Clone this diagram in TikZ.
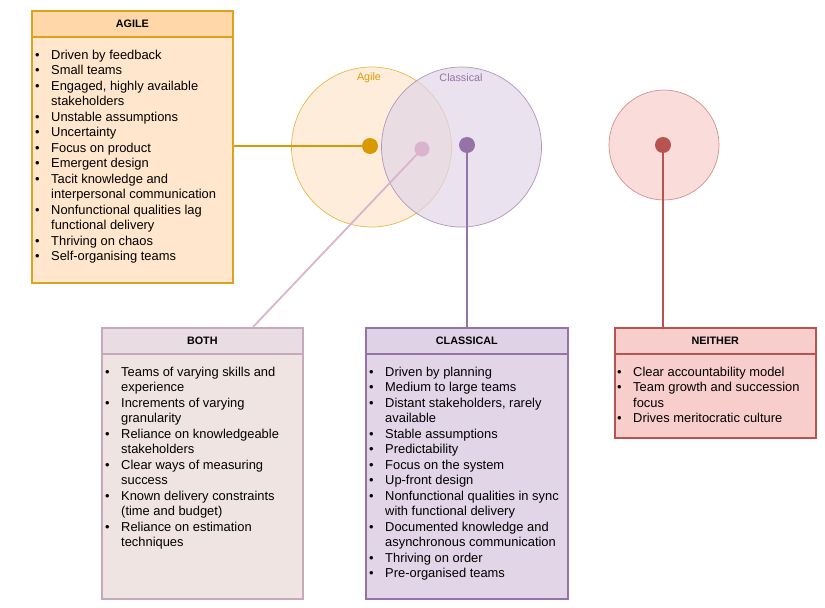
\documentclass[tikz,border=0pt]{standalone}
\usepackage{fontspec}
\setmainfont{Liberation Sans}
\definecolor{agFill}{HTML}{FFE6CC}
\definecolor{agHead}{HTML}{FFD7A8}
\definecolor{agLine}{HTML}{D79B00}
\definecolor{agBorder}{HTML}{DCA31E}
\definecolor{clFill}{HTML}{E1D5E7}
\definecolor{clHead}{HTML}{DFD2E6}
\definecolor{clLine}{HTML}{9673A6}
\definecolor{boFill}{HTML}{F0E4E2}
\definecolor{boHead}{HTML}{E9DCE3}
\definecolor{boBorder}{HTML}{C6AABB}
\definecolor{boLine}{HTML}{DAB3CE}
\definecolor{neFill}{HTML}{F8CECC}
\definecolor{neLine}{HTML}{B85450}
\newcommand\bl{\textbullet}
\tikzset{
  bodybox/.style={rectangle, draw, line width=1.6pt, anchor=north west, inner sep=0pt},
  headbox/.style={rectangle, draw, line width=1.6pt, anchor=north west, inner sep=0pt,
    minimum height=26pt, font=\fontsize{10.8}{13}\selectfont\bfseries},
  listtext/.style={anchor=base west, inner sep=0pt, align=left,
    font=\fontsize{12.9}{15.5}\selectfont},
  venn/.style={circle, draw, line width=0.7pt, fill opacity=0.7, inner sep=0pt},
  dot/.style={circle, inner sep=0pt, minimum size=16pt},
  link/.style={line width=1.8pt},
  clabel/.style={font=\fontsize{10.75}{12}\selectfont, inner sep=0pt}
}
\begin{document}
\begin{tikzpicture}[x=1pt,y=-1pt]
\useasboundingbox (0,0) rectangle (825,608);

% Venn circles
\node[venn, fill=agFill, draw=agLine!70, minimum size=160pt] (agc) at (371.5,147) {};
\node[venn, fill=clFill, draw=clLine!75, minimum size=160pt] (clc) at (461.5,147) {};
\node[venn, fill=neFill, draw=neLine!65, minimum size=110pt] (nec) at (664,145) {};
\node[clabel, text=agLine] (aglab) at (369,78) {Agile};
\node[clabel, text=clLine] (cllab) at (461,78) {Classical};

% Boxes
\node[bodybox, fill=agFill, draw=agBorder, minimum width=201pt, minimum height=272pt] (agile) at (31,10) {};
\node[headbox, fill=agHead, draw=agBorder, minimum width=201pt] (agileh) at (31,10) {AGILE};
\node[listtext] (agilet) at (35,59.2) {\begin{tabular}[t]{@{}l@{\hspace{11.5pt}}l@{}}
\bl & Driven by feedback\\
\bl & Small teams\\
\bl & Engaged, highly available\\
    & stakeholders\\
\bl & Unstable assumptions\\
\bl & Uncertainty\\
\bl & Focus on product\\
\bl & Emergent design\\
\bl & Tacit knowledge and\\
    & interpersonal communication\\
\bl & Nonfunctional qualities lag\\
    & functional delivery\\
\bl & Thriving on chaos\\
\bl & Self-organising teams
\end{tabular}};

\node[bodybox, fill=boFill, draw=boBorder, minimum width=201pt, minimum height=271pt] (both) at (101,327) {};
\node[headbox, fill=boHead, draw=boBorder, minimum width=201pt] (bothh) at (101,327) {BOTH};
\node[listtext] (botht) at (105,376.2) {\begin{tabular}[t]{@{}l@{\hspace{11.5pt}}l@{}}
\bl & Teams of varying skills and\\
    & experience\\
\bl & Increments of varying\\
    & granularity\\
\bl & Reliance on knowledgeable\\
    & stakeholders\\
\bl & Clear ways of measuring\\
    & success\\
\bl & Known delivery constraints\\
    & (time and budget)\\
\bl & Reliance on estimation\\
    & techniques
\end{tabular}};

\node[bodybox, fill=clFill, draw=clLine, minimum width=202pt, minimum height=271pt] (classical) at (365,327) {};
\node[headbox, fill=clHead, draw=clLine, minimum width=202pt] (classicalh) at (365,327) {CLASSICAL};
\node[listtext] (classicalt) at (369,376.2) {\begin{tabular}[t]{@{}l@{\hspace{11.5pt}}l@{}}
\bl & Driven by planning\\
\bl & Medium to large teams\\
\bl & Distant stakeholders, rarely\\
    & available\\
\bl & Stable assumptions\\
\bl & Predictability\\
\bl & Focus on the system\\
\bl & Up-front design\\
\bl & Nonfunctional qualities in sync\\
    & with functional delivery\\
\bl & Documented knowledge and\\
    & asynchronous communication\\
\bl & Thriving on order\\
\bl & Pre-organised teams
\end{tabular}};

\node[bodybox, fill=neFill, draw=neLine, minimum width=201pt, minimum height=110pt] (neither) at (614,327) {};
\node[headbox, fill=neFill, draw=neLine, minimum width=201pt] (neitherh) at (614,327) {NEITHER};
\node[listtext] (neithert) at (617,376.2) {\begin{tabular}[t]{@{}l@{\hspace{11.5pt}}l@{}}
\bl & Clear accountability model\\
\bl & Team growth and succession\\
    & focus\\
\bl & Drives meritocratic culture
\end{tabular}};

% Dots (positions)
\coordinate (adotc) at (370,146);
\coordinate (bdotc) at (422,149);
\coordinate (cdotc) at (467,145);
\coordinate (ndotc) at (663,145);
\coordinate (bend) at (253,327);

% Connectors
\draw[link, draw=agLine] (agile.east |- adotc) -- (adotc);
\draw[link, draw=boLine] (bdotc) -- (bend);
\draw[link, draw=clLine] (cdotc) -- (cdotc |- classicalh.north);
\draw[link, draw=neLine] (ndotc) -- (ndotc |- neitherh.north);

\node[dot, fill=agLine] (adot) at (adotc) {};
\node[dot, fill=boLine, minimum size=15pt] (bdot) at (bdotc) {};
\node[dot, fill=clLine] (cdot) at (cdotc) {};
\node[dot, fill=neLine] (ndot) at (ndotc) {};
\end{tikzpicture}
\end{document}
